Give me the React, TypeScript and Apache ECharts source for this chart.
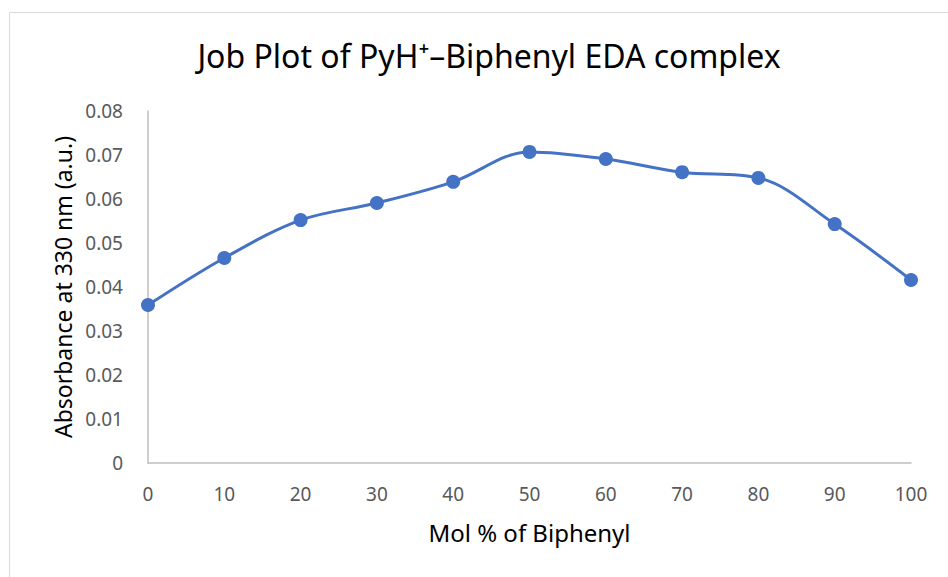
import React, { useEffect, useRef } from "react";
import * as echarts from "echarts";

const titleText = "Job Plot of PyH⁺–Biphenyl EDA complex";
const xAxisName = "Mol % of Biphenyl";
const yAxisName = "Absorbance at 330 nm (a.u.)";
const molPercent = [0, 10, 20, 30, 40, 50, 60, 70, 80, 90, 100];
const absorbance = [0.0359, 0.0466, 0.0552, 0.0591, 0.0639, 0.0707, 0.0691, 0.0661, 0.0648, 0.0543, 0.0416];

const FONT = "'Noto Sans', 'Open Sans', sans-serif";

export default function App() {
  const ref = useRef<HTMLDivElement>(null);
  useEffect(() => {
    if (!ref.current) return;
    const chart = echarts.init(ref.current, undefined, { renderer: "svg" });
    const data = molPercent.map((x, i) => [x, absorbance[i]]);
    chart.setOption({
      animation: false,
      backgroundColor: "#ffffff",
      title: {
        text: titleText,
        left: 484,
        textAlign: "center",
        top: 34,
        textStyle: { fontFamily: FONT, fontSize: 32, fontWeight: "normal", color: "#000000" },
      },
      graphic: [
        {
          type: "rect",
          shape: { x: 9.5, y: 12.5, width: 1200, height: 1200 },
          style: { fill: "none", stroke: "#d9d9d9", lineWidth: 1 },
          silent: true,
          z: -10,
        },
      ],
      grid: { left: 148, right: 37, top: 111, bottom: 114 },
      xAxis: {
        type: "value",
        min: 0,
        max: 100,
        interval: 10,
        name: xAxisName,
        nameLocation: "middle",
        nameGap: 57,
        nameTextStyle: { fontFamily: FONT, fontSize: 24, color: "#000000" },
        axisLine: { show: true, lineStyle: { color: "#bfbfbf", width: 1.5 } },
        axisTick: { show: false },
        splitLine: { show: false },
        axisLabel: { fontFamily: FONT, fontSize: 19, color: "#595959", margin: 21 },
      },
      yAxis: {
        type: "value",
        min: 0,
        max: 0.08,
        interval: 0.01,
        name: yAxisName,
        nameLocation: "middle",
        nameGap: 74,
        nameTextStyle: { fontFamily: FONT, fontSize: 23, color: "#000000" },
        axisLine: { show: true, lineStyle: { color: "#bfbfbf", width: 1.5 } },
        axisTick: { show: false },
        splitLine: { show: false },
        axisLabel: { fontFamily: FONT, fontSize: 19, color: "#595959", margin: 25 },
      },
      series: [
        {
          type: "line",
          data,
          smooth: 0.35,
          symbol: "circle",
          symbolSize: 14,
          lineStyle: { color: "#4472c4", width: 3 },
          itemStyle: { color: "#4472c4" },
        },
      ],
    });
    return () => chart.dispose();
  }, []);
  return (
    <div
      ref={ref}
      style={{ position: "fixed", left: 0, top: 0, width: 948, height: 577 }}
    />
  );
}
